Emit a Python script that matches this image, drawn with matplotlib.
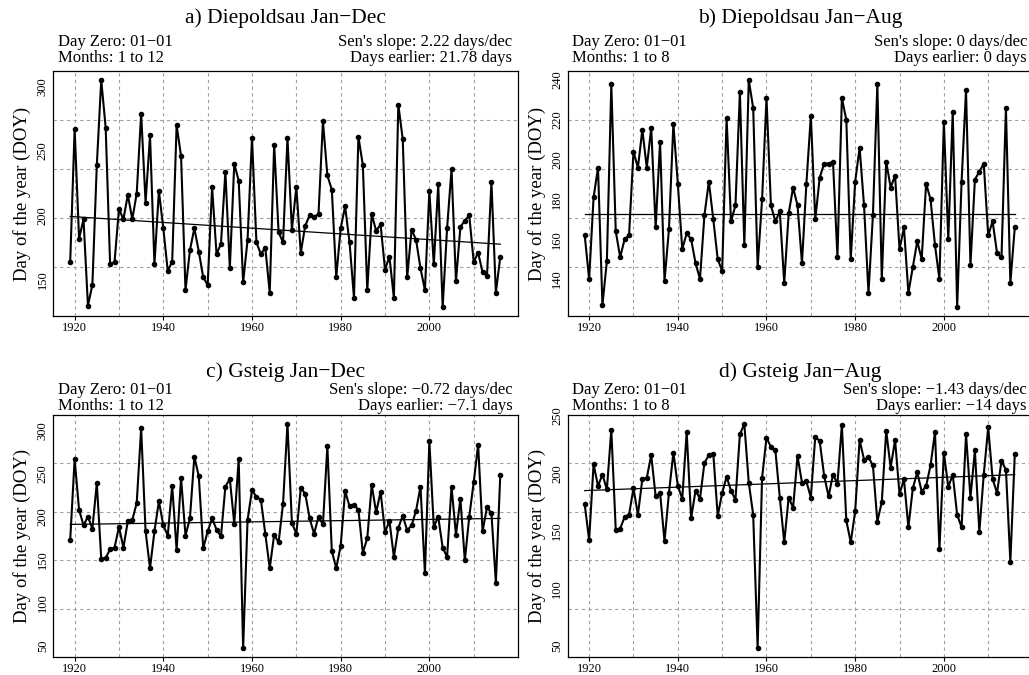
#!/usr/bin/env python3
# -*- coding: utf-8 -*-

import numpy as np
import matplotlib
matplotlib.use("Agg")
import matplotlib.pyplot as plt
from matplotlib.ticker import MultipleLocator


FIG_W, FIG_H = 1029, 675        # 输出像素
plt.rcParams['font.family'] = ['Liberation Serif', 'DejaVu Serif']

years = np.arange(1919, 2017)

# Diepoldsau, Jan-Dec
diep_jan_dec = [
    164, 267, 182, 197, 130, 146, 239, 305, 268, 162,
    164, 205, 197, 216, 197, 217, 279, 210, 262, 162,
    219, 190, 157, 164, 270, 246, 142, 173, 190, 172,
    152, 146, 222, 170, 178, 234, 159, 240, 227, 148,
    181, 260, 179, 170, 175, 140, 255, 187, 179, 260,
    189, 222, 171, 192, 200, 199, 201, 273, 231, 220,
    152, 190, 207, 179, 136, 261, 239, 142, 201, 188,
    193, 158, 168, 136, 286, 259, 152, 189, 181, 159,
    142, 219, 162, 224, 129, 190, 236, 149, 191, 196,
    200, 164, 171, 156, 153, 226, 140, 168,
]

# Diepoldsau, Jan-Aug
diep_jan_aug = [
    162, 140, 181, 196, 127, 149, 238, 164, 151, 160,
    162, 204, 196, 215, 196, 216, 166, 209, 139, 165,
    218, 188, 155, 163, 160, 148, 140, 172, 189, 170,
    150, 144, 221, 169, 177, 234, 157, 240, 226, 146,
    180, 231, 177, 169, 174, 138, 173, 186, 177, 148,
    188, 222, 170, 191, 198, 198, 199, 151, 231, 220,
    150, 189, 206, 177, 133, 172, 238, 140, 199, 186,
    192, 155, 166, 133, 146, 159, 150, 188, 180, 157,
    140, 219, 160, 224, 126, 189, 235, 147, 190, 194,
    198, 162, 169, 153, 151, 226, 138, 166,
]

# Gsteig, Jan-Dec
gst_jan_dec = [
    173, 267, 208, 190, 200, 186, 239, 151, 152, 162,
    164, 188, 164, 195, 196, 216, 303, 183, 140, 183,
    218, 190, 178, 236, 161, 245, 178, 198, 270, 247,
    163, 183, 198, 185, 177, 235, 244, 192, 267, 47,
    196, 231, 223, 220, 180, 140, 179, 170, 215, 308,
    193, 180, 233, 227, 198, 180, 200, 191, 282, 160,
    140, 166, 230, 212, 214, 208, 158, 175, 237, 205,
    229, 182, 195, 153, 187, 201, 184, 190, 207, 235,
    134, 288, 188, 200, 164, 153, 235, 179, 221, 149,
    200, 240, 284, 183, 211, 204, 123, 249,
]

# Gsteig, Jan-Aug
gst_jan_aug = [
    173, 142, 208, 189, 199, 186, 238, 151, 152, 162,
    164, 187, 164, 195, 196, 216, 180, 183, 141, 183,
    218, 189, 178, 236, 161, 185, 178, 209, 216, 217,
    163, 183, 197, 185, 177, 234, 243, 192, 164, 48,
    196, 231, 223, 220, 179, 140, 179, 170, 215, 192,
    193, 179, 232, 228, 198, 180, 199, 191, 242, 159,
    140, 167, 229, 212, 214, 207, 158, 175, 237, 205,
    229, 182, 195, 153, 187, 201, 184, 189, 207, 236,
    134, 218, 188, 199, 164, 153, 234, 179, 220, 149,
    199, 240, 195, 183, 211, 203, 123, 217,
]

titles = ["a) Diepoldsau Jan\u2212Dec", "b) Diepoldsau Jan\u2212Aug",
          "c) Gsteig Jan\u2212Dec", "d) Gsteig Jan\u2212Aug"]
month_ranges = ["1 to 12", "1 to 8", "1 to 12", "1 to 8"]
sens_slopes = ["2.22", "0", "\u22120.72", "\u22121.43"]      # days/dec
days_earlier = ["21.78", "0", "\u22127.1", "\u221214"]
slope_per_dec = [2.22, 0.0, -0.72, -1.43]
trend_start = [199.2, 172.5, 191.0, 185.0]                   # 1919 年的趋势线值
ytick_step = [50, 20, 50, 50]

# 每个子图的边框位置（像素：左, 右, 上, 下）
BOXES = [
    (53, 517.5, 71, 316),
    (567.5, 1032, 71, 316),
    (53, 517.5, 415, 657),
    (567.5, 1032, 415, 657),
]
# 每行标题和两行说明文字的 y 位置（像素）
TEXT_Y = [(18, 42, 58), (18, 42, 58), (372, 390, 406), (372, 390, 406)]

GRID_KW = dict(color='#a0a0a0', lw=0.8, ls=(0, (3, 3)), zorder=1)


def fx(px):
    return px / FIG_W


def fy(py):
    return 1 - py / FIG_H


def draw_panel(fig, idx, values):
    left, right, top, bottom = BOXES[idx]
    ax = fig.add_axes([fx(left), fy(bottom), fx(right - left), (bottom - top) / FIG_H])
    ax.margins(x=0.04, y=0.04)

    ax.plot(years, values, color='black', lw=1.5, marker='o', ms=3.0, zorder=3)

    # Sen 斜率趋势线：提前天数为正 -> DOY 下降
    trend = trend_start[idx] - slope_per_dec[idx] / 10.0 * (years - years[0])
    ax.plot(years, trend, color='black', lw=0.9, zorder=4)

    ax.xaxis.set_major_locator(MultipleLocator(20))
    ax.yaxis.set_major_locator(MultipleLocator(ytick_step[idx]))
    ax.tick_params(axis='x', length=3, width=0.8, pad=1.5, labelsize=9)
    ax.tick_params(axis='y', length=0, pad=3, labelsize=9, labelrotation=90)
    for lab in ax.get_yticklabels():
        lab.set_va('center')

    # 网格：竖线每 10 年，横线把 y 轴等分成 5 份
    x0, x1 = ax.get_xlim()
    y0, y1 = ax.get_ylim()
    for yr in range(1920, 2020, 10):
        ax.axvline(yr, **GRID_KW)
    for k in range(1, 5):
        ax.axhline(y0 + k * (y1 - y0) / 5, **GRID_KW)
    ax.set_xlim(x0, x1)
    ax.set_ylim(y0, y1)

    for sp in ax.spines.values():
        sp.set_linewidth(0.9)

    ax.set_ylabel("Day of the year (DOY)", fontsize=13.5, labelpad=4)

    ty, l1, l2 = TEXT_Y[idx]
    cx = (left + right) / 2
    fig.text(fx(cx), fy(ty), titles[idx], ha='center', va='center', fontsize=15.5)
    fig.text(fx(left + 5), fy(l1), "Day Zero: 01\u221201", ha='left', va='center', fontsize=12)
    fig.text(fx(left + 5), fy(l2), "Months: " + month_ranges[idx], ha='left', va='center', fontsize=12)
    fig.text(fx(right - 5), fy(l1), "Sen's slope: " + sens_slopes[idx] + " days/dec",
             ha='right', va='center', fontsize=12)
    fig.text(fx(right - 5), fy(l2), "Days earlier: " + days_earlier[idx] + " days",
             ha='right', va='center', fontsize=12)


def main():
    fig = plt.figure(figsize=(FIG_W / 100, FIG_H / 100), dpi=100)
    for i, vals in enumerate([diep_jan_dec, diep_jan_aug, gst_jan_dec, gst_jan_aug]):
        draw_panel(fig, i, vals)
    fig.savefig("out.png", dpi=100)
    plt.close(fig)


if __name__ == "__main__":
    main()
